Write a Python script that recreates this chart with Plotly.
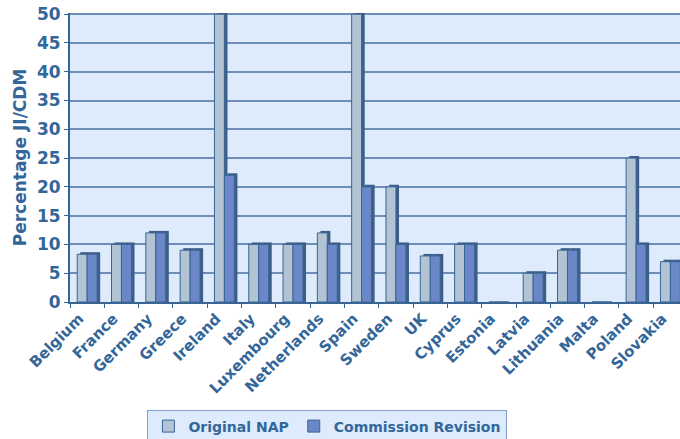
import plotly.graph_objects as go

countries = ["Belgium", "France", "Germany", "Greece", "Ireland", "Italy", "Luxembourg",
             "Netherlands", "Spain", "Sweden", "UK", "Cyprus", "Estonia", "Latvia",
             "Lithuania", "Malta", "Poland", "Slovakia"]
original_nap = [8.3, 10, 12, 9, 50, 10, 10, 12, 50, 20, 8, 10, 0, 5, 9, 0, 25, 7]
commission_revision = [8.3, 10, 12, 9, 22, 10, 10, 10, 20, 10, 8, 10, 0, 5, 9, 0, 10, 7]
y_ticks = [0, 5, 10, 15, 20, 25, 30, 35, 40, 45, 50]

TXT = "#336699"
LIGHT = "#B2C3D3"
BLUE = "#6A88C8"
EDGE = "#3A6494"
SHADOW = "#3D5E88"
W = 0.29
D = 0.09

fig = go.Figure()
# depth (3D side) traces
for vals, off in [(original_nap, -W), (commission_revision, 0.0)]:
    fig.add_trace(go.Bar(
        x=countries, y=[v + 0.35 if v > 0 else 0 for v in vals],
        width=W, offset=off + D, marker=dict(color=SHADOW, line=dict(width=0)),
        showlegend=False, hoverinfo="skip"))
fig.add_trace(go.Bar(
    x=countries, y=original_nap, name="Original NAP", width=W, offset=-W,
    marker=dict(color=LIGHT, line=dict(color=EDGE, width=1))))
fig.add_trace(go.Bar(
    x=countries, y=commission_revision, name="Commission Revision", width=W, offset=0.0,
    marker=dict(color=BLUE, line=dict(color=EDGE, width=1))))

fig.update_layout(
    width=680, height=439,
    margin=dict(l=70, r=0, t=13, b=137, autoexpand=False),
    barmode="overlay",
    paper_bgcolor="white",
    plot_bgcolor="#DDEBFD",
    font=dict(family="DejaVu Sans", color=TXT),
    showlegend=True,
    legend=dict(orientation="h", x=0.422, xanchor="center", y=-0.372, yanchor="top",
                bgcolor="#DDEBFD", bordercolor="#7F9FC8", borderwidth=1,
                font=dict(size=14, color=TXT, family="DejaVu Sans", weight="bold"),
                itemwidth=30, tracegroupgap=0, traceorder="normal"),
)
fig.update_xaxes(
    range=[-0.5, 17.28], tickangle=-45, ticks="outside", tickson="boundaries",
    ticklen=4, tickcolor=EDGE, showline=True, linecolor=EDGE, linewidth=2,
    tickfont=dict(size=15, color=TXT, family="DejaVu Sans", weight="bold"),
    ticklabelshift=-8,
    showgrid=False, automargin=False)
fig.update_yaxes(
    range=[0, 50.2], tickvals=y_ticks, ticks="outside", ticklen=4, tickcolor=EDGE,
    showline=True, linecolor=EDGE, linewidth=2, gridcolor="#6E8EB8", gridwidth=1.5,
    zeroline=False, automargin=False,
    tickfont=dict(size=17, color=TXT, family="DejaVu Sans", weight="bold"),
    title=dict(text="Percentage JI/CDM", standoff=6,
               font=dict(size=17, color=TXT, family="DejaVu Sans", weight="bold")))

fig.write_html("out.html")
